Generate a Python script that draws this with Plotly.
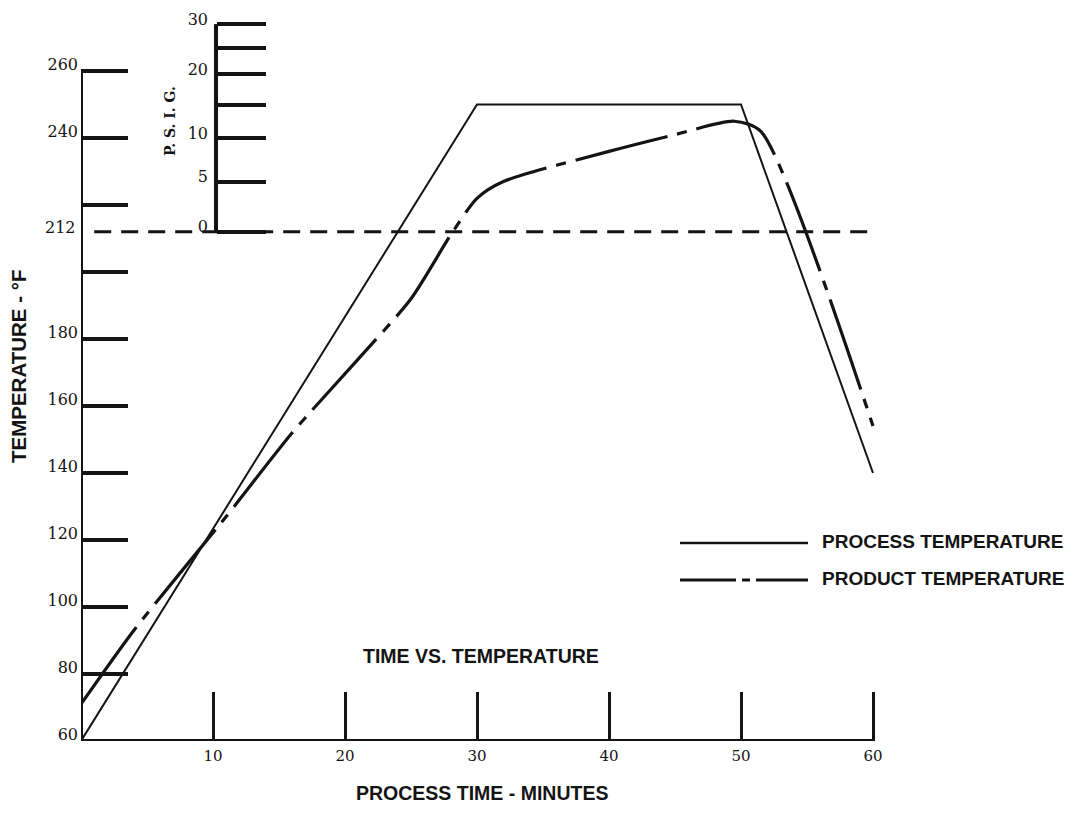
import plotly.graph_objects as go

# ---- data ----
process_time = [0, 30, 50, 60]
process_temp = [60, 250, 250, 140]

product_time = [0, 4, 11, 16, 21, 25, 28, 30, 32, 40, 45, 49.5, 51.5, 60]
product_temp = [71, 93, 127, 152, 174, 192, 211, 222, 227, 236, 241, 245, 242, 154]

boiling_temp = 212
boiling_span = [1, 60]

temp_ticks = [60, 80, 100, 120, 140, 160, 180, 200, 220, 240, 260]
temp_ticktext = ["60", "80", "100", "120", "140", "160", "180", "", "", "240", "260"]

time_ticks = [10, 20, 30, 40, 50, 60]
time_ticktext = ["10", "20", "30", "40", "50", "60"]

# pressure scale (psig) placed at its saturated-steam temperature
psig_temps = [212, 227, 240, 250, 259, 267, 274]
psig_text = ["0", "5", "10", "", "20", "", "30"]

# ---- layout geometry ----
W, H = 1079, 813
L, R, T, B = 81, 5, 10, 72
PW = W - L - R
PH = H - T - B
PX_PER_MIN = 13.2
PX_PER_DEG = 3.35
x_range = [0, PW / PX_PER_MIN]
y_range = [60, 60 + PH / PX_PER_DEG]


def xp(px):
    return (px - L) / PW


def yp(py):
    return (H - B - py) / PH


INK = "#141414"
TICKFONT = dict(family="DejaVu Serif", size=15, color=INK)


def sans(size):
    return dict(family="Liberation Sans", size=size, color=INK)


fig = go.Figure()

fig.add_trace(go.Scatter(
    x=process_time, y=process_temp, mode="lines", name="PROCESS TEMPERATURE",
    line=dict(color=INK, width=2), cliponaxis=False, showlegend=False,
))
fig.add_trace(go.Scatter(
    x=product_time, y=product_temp, mode="lines", name="PRODUCT TEMPERATURE",
    line=dict(color=INK, width=3.2, dash="95px,10px,10px,10px", shape="spline", smoothing=0.7),
    cliponaxis=False, showlegend=False,
))
# invisible trace to carry the psig axis
fig.add_trace(go.Scatter(
    x=[None], y=[None], yaxis="y2", showlegend=False, hoverinfo="skip",
))

shapes = [
    dict(type="line", xref="x", yref="y", x0=0, x1=0, y0=60, y1=temp_ticks[-1],
         line=dict(color=INK, width=4)),
    dict(type="line", xref="x", yref="y", x0=0, x1=time_ticks[-1], y0=60, y1=60,
         line=dict(color=INK, width=4)),
    dict(type="line", xref="paper", yref="y", x0=xp(216), x1=xp(216),
         y0=psig_temps[0], y1=psig_temps[-1], line=dict(color=INK, width=4)),
    dict(type="line", xref="x", yref="y", x0=boiling_span[0], x1=boiling_span[1],
         y0=boiling_temp, y1=boiling_temp,
         line=dict(color=INK, width=3, dash="17px,10px")),
    dict(type="line", xref="paper", yref="paper", x0=xp(680), x1=xp(808),
         y0=yp(543), y1=yp(543), line=dict(color=INK, width=2.5)),
    dict(type="line", xref="paper", yref="paper", x0=xp(680), x1=xp(808),
         y0=yp(580), y1=yp(580), line=dict(color=INK, width=3, dash="56px,6px,8px,6px")),
]

annotations = [
    dict(text="212", xref="paper", yref="y", x=xp(78), y=boiling_temp, yshift=4,
         xanchor="right", yanchor="middle", showarrow=False,
         font=dict(family="DejaVu Serif", size=16, color=INK)),
    dict(text="<b>TEMPERATURE - °F</b>", xref="paper", yref="paper", x=xp(18), y=yp(367),
         textangle=-90, showarrow=False, font=sans(20.5), xanchor="center", yanchor="middle"),
    dict(text="<b>PROCESS TIME - MINUTES</b>", xref="paper", yref="paper", x=xp(482), y=yp(793),
         showarrow=False, font=sans(19.5), xanchor="center", yanchor="middle"),
    dict(text="<b>TIME VS. TEMPERATURE</b>", xref="paper", yref="paper", x=xp(481), y=yp(656),
         showarrow=False, font=sans(19.5), xanchor="center", yanchor="middle"),
    dict(text="<b>PROCESS TEMPERATURE</b>", xref="paper", yref="paper", x=xp(820), y=yp(541),
         showarrow=False, font=sans(19), xanchor="left", yanchor="middle"),
    dict(text="<b>PRODUCT TEMPERATURE</b>", xref="paper", yref="paper", x=xp(820), y=yp(578),
         showarrow=False, font=sans(19), xanchor="left", yanchor="middle"),
    dict(text="<b>P. S. I. G.</b>", xref="paper", yref="paper", x=xp(170), y=yp(121),
         textangle=-90, showarrow=False, font=dict(family="DejaVu Serif", size=14, color=INK),
         xanchor="center", yanchor="middle"),
]

fig.update_layout(
    width=W, height=H,
    margin=dict(l=L, r=R, t=T, b=B, pad=0),
    paper_bgcolor="white", plot_bgcolor="white",
    showlegend=False,
    xaxis=dict(
        range=x_range, showgrid=False, zeroline=False, showline=False,
        tickmode="array", tickvals=time_ticks, ticktext=time_ticktext,
        ticks="inside", ticklen=49, tickwidth=3, tickcolor=INK,
        tickfont=TICKFONT, ticklabelstandoff=4, automargin=False,
    ),
    yaxis=dict(
        range=y_range, showgrid=False, zeroline=False, showline=False,
        tickmode="array", tickvals=temp_ticks, ticktext=temp_ticktext,
        ticks="inside", ticklen=47, tickwidth=3.5, tickcolor=INK,
        tickfont=dict(family="DejaVu Serif", size=16, color=INK),
        ticklabelshift=-7, ticklabelstandoff=2, automargin=False,
    ),
    yaxis2=dict(
        range=y_range, overlaying="y", anchor="free", position=xp(216), side="left",
        showgrid=False, zeroline=False, showline=False,
        tickmode="array", tickvals=psig_temps, ticktext=psig_text,
        ticks="inside", ticklen=49, tickwidth=3.5, tickcolor=INK,
        tickfont=dict(family="DejaVu Serif", size=16, color=INK),
        ticklabelshift=-5, ticklabelstandoff=8, automargin=False,
    ),
    shapes=shapes,
    annotations=annotations,
)

fig.write_html(
    "out.html",
    config={"displayModeBar": False},
    post_script="document.body.style.margin='0px';document.body.style.padding='0px';",
)
